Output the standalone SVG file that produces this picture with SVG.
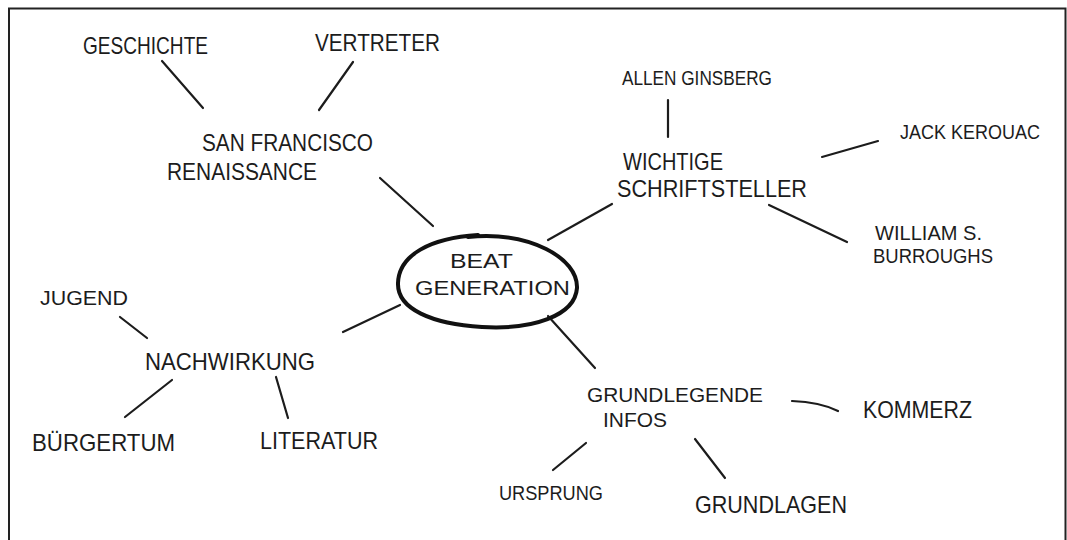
<svg xmlns="http://www.w3.org/2000/svg" width="1067" height="540" viewBox="0 0 1067 540">
<style>
.t{font-family:"Liberation Sans","DejaVu Sans",sans-serif;font-size:24px;fill:#1c1c1c;}
.s{font-size:21px;}
.c{stroke:#1c1c1c;stroke-width:2.2;stroke-linecap:round;fill:none;}
.frame{stroke:#222;stroke-width:2;fill:none;}
</style>
<rect width="1067" height="540" fill="#ffffff"/>
<path class="frame" d="M9 541 V8.5 H1065.5 V541"/>
<g id="connectors">
<line class="c" x1="162" y1="61" x2="203" y2="108"/>
<line class="c" x1="353" y1="62" x2="319" y2="110"/>
<line class="c" x1="380" y1="178" x2="433" y2="226"/>
<line class="c" x1="612" y1="204" x2="548" y2="240"/>
<line class="c" x1="668" y1="100" x2="668" y2="137"/>
<line class="c" x1="822" y1="157" x2="878" y2="141"/>
<line class="c" x1="769" y1="205" x2="847" y2="242"/>
<line class="c" x1="343" y1="332" x2="400" y2="305"/>
<line class="c" x1="120" y1="317" x2="147" y2="338"/>
<line class="c" x1="172" y1="380" x2="125" y2="417"/>
<line class="c" x1="276" y1="377" x2="288" y2="418"/>
<line class="c" x1="548" y1="316" x2="595" y2="368"/>
<path class="c" d="M792 401 Q820 402 838 411"/>
<line class="c" x1="586" y1="443" x2="553" y2="470"/>
<line class="c" x1="695" y1="439" x2="725" y2="478"/>
</g>
<g id="beat-generation">
<path d="M468 237 C530 231 578 258 577 288 C575 316 532 330 482 327 C432 324 397 309 398 283 C399 255 430 238 478 235" fill="none" stroke="#111" stroke-width="4" stroke-linecap="round"/>
<text class="t s" x="450" y="268" textLength="63" lengthAdjust="spacingAndGlyphs">BEAT</text>
<text class="t s" x="415" y="295" textLength="155" lengthAdjust="spacingAndGlyphs">GENERATION</text>
</g>
<g id="san-francisco">
<text class="t" x="202" y="151" textLength="171" lengthAdjust="spacingAndGlyphs">SAN FRANCISCO</text>
<text class="t" x="167" y="180" textLength="150" lengthAdjust="spacingAndGlyphs">RENAISSANCE</text>
</g>
<g id="geschichte"><text class="t" x="83" y="54" textLength="125" lengthAdjust="spacingAndGlyphs">GESCHICHTE</text></g>
<g id="vertreter"><text class="t" x="315" y="51" textLength="125" lengthAdjust="spacingAndGlyphs">VERTRETER</text></g>
<g id="schriftsteller">
<text class="t" x="623" y="170" textLength="100" lengthAdjust="spacingAndGlyphs">WICHTIGE</text>
<text class="t" x="617" y="197" textLength="190" lengthAdjust="spacingAndGlyphs">SCHRIFTSTELLER</text>
</g>
<g id="ginsberg"><text class="t s" x="622" y="85" textLength="150" lengthAdjust="spacingAndGlyphs">ALLEN GINSBERG</text></g>
<g id="kerouac"><text class="t s" x="900" y="139" textLength="140" lengthAdjust="spacingAndGlyphs">JACK KEROUAC</text></g>
<g id="burroughs">
<text class="t s" x="875" y="240" textLength="107" lengthAdjust="spacingAndGlyphs">WILLIAM S.</text>
<text class="t s" x="873" y="263" textLength="120" lengthAdjust="spacingAndGlyphs">BURROUGHS</text>
</g>
<g id="nachwirkung"><text class="t" x="145" y="370" textLength="170" lengthAdjust="spacingAndGlyphs">NACHWIRKUNG</text></g>
<g id="jugend"><text class="t s" x="40" y="305" textLength="88" lengthAdjust="spacingAndGlyphs">JUGEND</text></g>
<g id="buergertum"><text class="t" x="32" y="451" textLength="143" lengthAdjust="spacingAndGlyphs">BÜRGERTUM</text></g>
<g id="literatur"><text class="t" x="260" y="449" textLength="118" lengthAdjust="spacingAndGlyphs">LITERATUR</text></g>
<g id="grundlegende">
<text class="t s" x="587" y="402" textLength="176" lengthAdjust="spacingAndGlyphs">GRUNDLEGENDE</text>
<text class="t s" x="603" y="427" textLength="64" lengthAdjust="spacingAndGlyphs">INFOS</text>
</g>
<g id="kommerz"><text class="t" x="863" y="418" textLength="109" lengthAdjust="spacingAndGlyphs">KOMMERZ</text></g>
<g id="ursprung"><text class="t s" x="499" y="500" textLength="104" lengthAdjust="spacingAndGlyphs">URSPRUNG</text></g>
<g id="grundlagen"><text class="t" x="695" y="513" textLength="152" lengthAdjust="spacingAndGlyphs">GRUNDLAGEN</text></g>
</svg>
